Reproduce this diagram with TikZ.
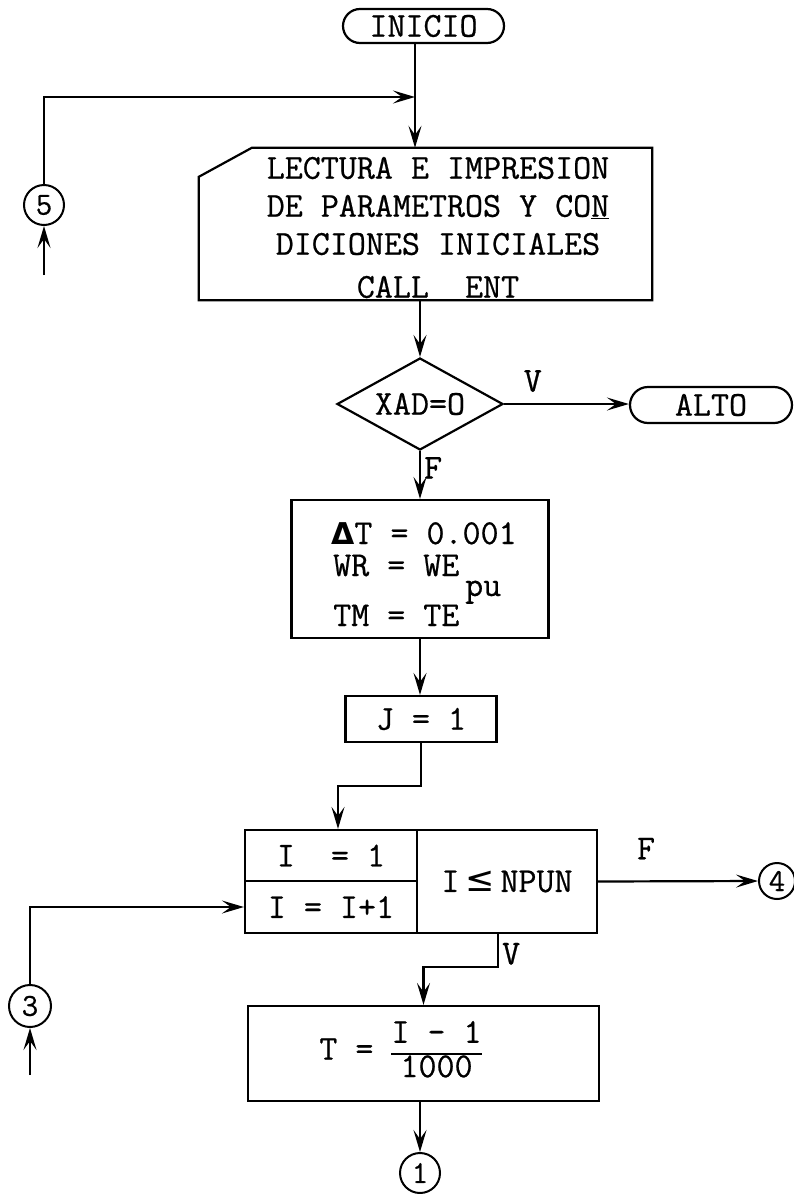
\documentclass[tikz,border=0pt]{standalone}
\usepackage{fontspec}
\setmonofont{Latin Modern Mono}[FakeBold=0.6]
\newfontfamily\symb{DejaVu Sans}
\usetikzlibrary{arrows.meta,positioning,shapes.geometric}
\setlength{\arrayrulewidth}{2pt}
\renewcommand{\arraystretch}{0.85}

\begin{document}
\begin{tikzpicture}[
  x=1pt, y=-1pt,
  font=\fontsize{35}{38}\selectfont\ttfamily,
  line/.style={line width=2.2pt},
  term/.style={draw, line width=2.2pt, rounded corners=17pt, inner sep=0pt},
  box/.style={draw, line width=2.2pt, inner sep=0pt, align=center},
  txt/.style={inner sep=0pt, anchor=base west},
  dec/.style={draw, line width=2.2pt, diamond, aspect=1.8, inner sep=0pt, minimum width=166pt, minimum height=92pt},
  conn/.style={draw, line width=2pt, circle, inner sep=0pt, font=\fontsize{32}{32}\selectfont\ttfamily},
  arrow/.style={-{Stealth[length=22pt,width=13pt,inset=9pt]}, line width=2.2pt},
  lbl/.style={inner sep=3pt}
]
\useasboundingbox (0,0) rectangle (794,1194);
\node[term, minimum width=161pt, minimum height=34pt] (start) at (423.5,26) {INICIO\hspace{24pt}};
\node[minimum width=453pt, minimum height=152pt] (read) at (425.5,224) {};
\node[align=center, inner sep=0pt] (readtxt) at (438,227.5) {LECTURA E IMPRESION\\DE PARAMETROS Y CO\underline{N}\\DICIONES INICIALES\\[5pt]CALL\ \ ENT};
\draw[line] ([yshift=-29pt]read.north west) -- ([xshift=53pt]read.north west) -- (read.north east) -- (read.south east) -- (read.south west) -- cycle;
\node[dec] (test) at (420,404) {XAD=O};
\node[term, minimum width=162pt, minimum height=36pt, rounded corners=18pt] (stop) at (711,405) {ALTO\hspace{36pt}};
\node[box, minimum width=257pt, minimum height=138pt] (init) at (420,569) {};
\node[txt] (dt) at (331,544) {{\symb\bfseries\fontsize{30}{38}\selectfont Δ}T = 0.001};
\node[txt] (wr) at (333,576) {WR = WE};
\node[txt] (pu) at (465,596) {pu};
\node[txt] (tm) at (333,626) {TM = TE};
\node[box, minimum width=151pt, minimum height=46pt] (jset) at (421,719) {J = 1};
\node[box, minimum width=172pt, minimum height=51pt] (iset) at (331,855.5) {I\ \ = 1};
\node[box, minimum width=172pt, minimum height=52pt] (iinc) at (331,907) {I = I+1};
\node[box, minimum width=180pt, minimum height=103pt] (itest) at (507,881.5) {I{\symb\,≤\,}NPUN};
\node[box, minimum width=351pt, minimum height=95pt] (tcalc) at (423.5,1053.5) {T = \begin{tabular}{@{}c@{}}I - 1\\\hline 1000\end{tabular}\hspace{46pt}};
\node[conn, minimum size=40pt] (c5) at (44,205) {5};
\node[conn, minimum size=42pt] (c3) at (30,1006) {3};
\node[conn, minimum size=36pt] (c4) at (777,881) {4};
\node[conn, minimum size=40pt] (c1) at (420,1173) {1};
\coordinate (merge) at (415,97);
\coordinate (in5) at (44,275);
\coordinate (jbend) at (338,786);
\coordinate (in3) at (30,1075);
\coordinate (vbend) at (498,967);
\draw[line] (start.south -| merge) -- (merge);
\draw[arrow] (merge) -- (merge |- read.north);
\draw[arrow] (c5.north) |- (merge);
\draw[arrow] (in5) -- (c5.south);
\draw[arrow] (read.south -| test.north) -- (test.north);
\draw[arrow] (test.east) -- node[lbl, above=8pt, pos=0.23] {V} (test.east -| stop.west);
\draw[arrow] (test.south) -- node[lbl, right, pos=0.35] {F} (test.south |- init.north);
\draw[arrow] (init.south) -- (init.south |- jset.north);
\draw[arrow] (jset.south) |- (jbend) -- (jbend |- iset.north);
\draw[arrow] (c3.north) |- (iinc.west);
\draw[arrow] (in3) -- (c3.south);
\draw[arrow] (itest.east) -- node[lbl, above=18pt, pos=0.3] {F} (c4.west);
\draw[arrow] (itest.south -| vbend) -- node[lbl, right, pos=0.6] {V} (vbend) -| (tcalc.north);
\draw[arrow] (c1.north |- tcalc.south) -- (c1.north);
\end{tikzpicture}
\end{document}
